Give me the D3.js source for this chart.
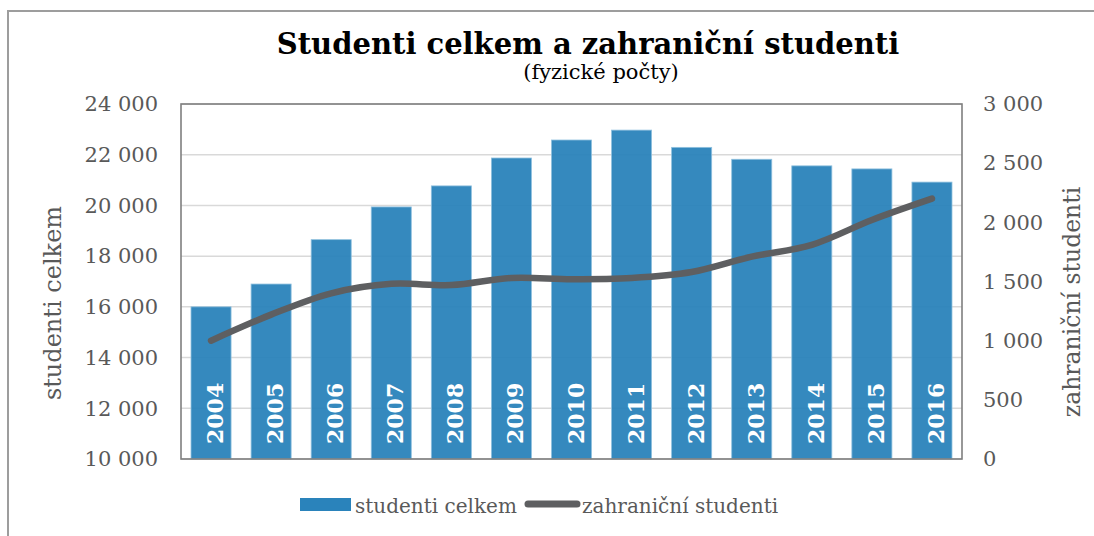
<!DOCTYPE html>
<html>
<head>
<meta charset="utf-8">
<script src="https://cdn.jsdelivr.net/npm/d3@7"></script>
<style>
    body { margin: 0; background: #fff; }
    text { font-family: "DejaVu Serif", Georgia, serif; }
</style>
</head>
<body>
<div id="chart"></div>
<script>
// data
const years = ["2004", "2005", "2006", "2007", "2008", "2009", "2010", "2011", "2012", "2013", "2014", "2015", "2016"];
const studentiCelkem = [16000, 16900, 18650, 19940, 20770, 21870, 22580, 22970, 22290, 21820, 21560, 21440, 20920];
const zahranicniStudenti = [1000, 1220, 1400, 1480, 1470, 1530, 1520, 1530, 1580, 1710, 1810, 2020, 2200];
const leftTicks = [10000, 12000, 14000, 16000, 18000, 20000, 22000, 24000];
const rightTicks = [0, 500, 1000, 1500, 2000, 2500, 3000];

const W = 1094, H = 536;
// plot area box
let p = {left: 181, right: 962, top: 104, bottom: 459};

const svg = d3.select("#chart")
    .append("svg")
    .attr("width", W)
    .attr("height", H);

// outer frame (runs off the right and bottom edge)
svg.append("rect")
    .attr("x", 8).attr("y", 11)
    .attr("width", W + 20).attr("height", H + 20)
    .attr("fill", "none")
    .attr("stroke", "#9d9d9d")
    .attr("stroke-width", 2);

// number format with space as thousands separator
const cz = d3.formatLocale({decimal: ",", thousands: "\u00a0", grouping: [3], currency: ["", " Kč"]});
const fmt = cz.format(",d");

let x = d3.scaleBand()
    .domain(years)
    .range([p.left, p.right])
    .paddingInner(1 / 3)
    .paddingOuter(1 / 6);

let yL = d3.scaleLinear().domain([10000, 24000]).range([p.bottom, p.top]);
let yR = d3.scaleLinear().domain([0, 3000]).range([p.bottom, p.top]);

// gridlines
svg.append("g")
    .selectAll("line")
    .data(leftTicks)
    .enter()
    .append("line")
    .attr("x1", p.left).attr("x2", p.right)
    .attr("y1", d => yL(d)).attr("y2", d => yL(d))
    .attr("stroke", "#d9d9d9")
    .attr("stroke-width", 1.5);

// bars
svg.append("g")
    .selectAll("rect")
    .data(years)
    .enter()
    .append("rect")
    .attr("x", d => x(d))
    .attr("y", (d, i) => yL(studentiCelkem[i]))
    .attr("width", x.bandwidth())
    .attr("height", (d, i) => p.bottom - yL(studentiCelkem[i]))
    .attr("fill", "#2a83bb")
    .attr("fill-opacity", 0.95)
    .attr("stroke", "#8fc0de")
    .attr("stroke-width", 0.8);

// year labels inside bars
svg.append("g")
    .selectAll("text")
    .data(years)
    .enter()
    .append("text")
    .attr("transform", d => "translate(" + (x(d) + x.bandwidth() / 2 + 12) + "," + 444 + ") rotate(-90)")
    .attr("fill", "#fff")
    .attr("font-weight", "bold")
    .attr("font-size", 22)
    .text(d => d);

// line for foreign students
const line = d3.line()
    .x((d, i) => x(years[i]) + x.bandwidth() / 2)
    .y(d => yR(d))
    .curve(d3.curveCatmullRom.alpha(0.5));

svg.append("path")
    .datum(zahranicniStudenti)
    .attr("d", line)
    .attr("fill", "none")
    .attr("stroke", "#5e5f61")
    .attr("stroke-width", 6.5)
    .attr("stroke-linecap", "round")
    .attr("stroke-linejoin", "round");

// plot border
svg.append("rect")
    .attr("x", p.left).attr("y", p.top)
    .attr("width", p.right - p.left).attr("height", p.bottom - p.top)
    .attr("fill", "none")
    .attr("stroke", "#7f7f7f")
    .attr("stroke-width", 1.6);

// axes
const axisL = svg.append("g")
    .attr("transform", "translate(" + p.left + ",0)")
    .call(d3.axisLeft(yL).tickValues(leftTicks).tickSize(0).tickPadding(23).tickFormat(fmt));

const axisR = svg.append("g")
    .attr("transform", "translate(" + p.right + ",0)")
    .call(d3.axisRight(yR).tickValues(rightTicks).tickSize(0).tickPadding(21).tickFormat(fmt));

[axisL, axisR].forEach(a => {
    a.select(".domain").remove();
    a.selectAll("text")
        .attr("font-family", "DejaVu Serif")
        .attr("font-size", 21)
        .attr("fill", "#595959");
});

// axis titles
svg.append("text")
    .attr("transform", "translate(61,303) rotate(-90)")
    .attr("text-anchor", "middle")
    .attr("font-size", 24)
    .attr("fill", "#595959")
    .text("studenti celkem");

svg.append("text")
    .attr("transform", "translate(1080,302) rotate(-90)")
    .attr("text-anchor", "middle")
    .attr("font-size", 23.5)
    .attr("fill", "#595959")
    .text("zahraniční studenti");

// title
svg.append("text")
    .attr("x", 588).attr("y", 54)
    .attr("text-anchor", "middle")
    .attr("font-weight", "bold")
    .attr("font-size", 29)
    .attr("fill", "#000")
    .text("Studenti celkem a zahraniční studenti");

svg.append("text")
    .attr("x", 601).attr("y", 79)
    .attr("text-anchor", "middle")
    .attr("font-size", 21)
    .attr("fill", "#000")
    .text("(fyzické počty)");

// legend
const lg = svg.append("g");
lg.append("rect")
    .attr("x", 300).attr("y", 498)
    .attr("width", 51).attr("height", 13)
    .attr("fill", "#2a83bb");
lg.append("text")
    .attr("x", 355).attr("y", 512.5)
    .attr("font-size", 20)
    .attr("fill", "#595959")
    .text("studenti celkem");
lg.append("line")
    .attr("x1", 528).attr("x2", 577)
    .attr("y1", 504).attr("y2", 504)
    .attr("stroke", "#5e5f61")
    .attr("stroke-width", 7)
    .attr("stroke-linecap", "round");
lg.append("text")
    .attr("x", 582).attr("y", 512.5)
    .attr("font-size", 20)
    .attr("fill", "#595959")
    .text("zahraniční studenti");
</script>
</body>
</html>
